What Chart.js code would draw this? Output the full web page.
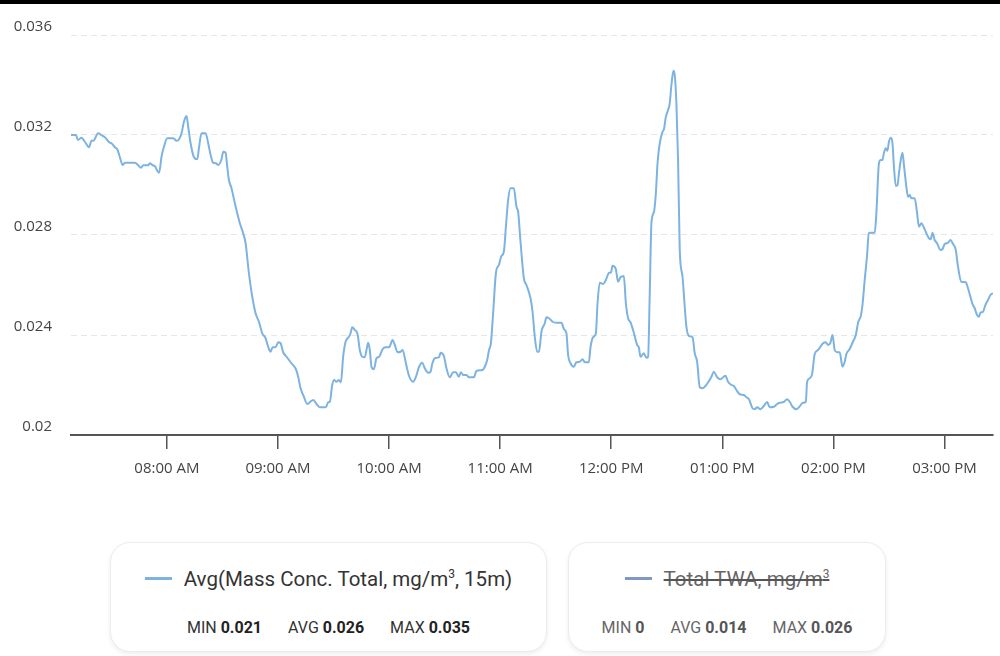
<!DOCTYPE html>
<html>
<head>
<meta charset="utf-8">
<script src="https://cdn.jsdelivr.net/npm/chart.js@4.4.0/dist/chart.umd.min.js"></script>
<style>
html,body{margin:0;padding:0;background:#fff;width:1000px;height:656px;overflow:hidden;font-family:Roboto,"Noto Sans",sans-serif}
#topbar{position:absolute;left:0;top:0;width:1000px;height:4px;background:#000;z-index:2}
#wrap{position:absolute;left:0;top:0;width:1000px;height:500px}
.box{position:absolute;top:542px;height:110px;box-sizing:border-box;border:1px solid #ececec;border-radius:20px;box-shadow:0 2px 5px rgba(0,0,0,0.07);background:#fff}
.title{position:absolute;left:0;right:0;top:24px;line-height:24px;text-align:center;font-size:20.5px;color:#333;white-space:nowrap}
.sw{display:inline-block;width:27px;height:3px;vertical-align:middle;margin-right:12px;position:relative;top:-2px}
.sup{font-size:12px;position:relative;top:-8px}
.stats{position:absolute;left:0;right:0;top:76px;line-height:18px;text-align:center;font-size:16px;color:#333;white-space:nowrap}
.stats b{color:#222}
.stats span{margin:0 13px}
#box2 .title .txt{color:#666;text-decoration:line-through;text-decoration-color:#555}
#box2 .stats{color:#666}
#box2 .stats b{color:#555}
</style>
</head>
<body>
<div id="topbar"></div>
<div id="wrap"><canvas id="c" width="1000" height="500"></canvas></div>

<div class="box" id="box1" style="left:110px;width:437px">
  <div class="title"><span class="sw" style="background:#7db3e0"></span><span class="txt">Avg(Mass Conc. Total, mg/m<span class="sup">3</span>, 15m)</span></div>
  <div class="stats"><span>MIN <b>0.021</b></span><span>AVG <b>0.026</b></span><span>MAX <b>0.035</b></span></div>
</div>
<div class="box" id="box2" style="left:568px;width:318px">
  <div class="title"><span class="sw" style="background:#8099c4"></span><span class="txt">Total TWA, mg/m<span class="sup">3</span></span></div>
  <div class="stats"><span>MIN <b>0</b></span><span>AVG <b>0.014</b></span><span>MAX <b>0.026</b></span></div>
</div>

<script>
// minutes after 07:00
const times = [
  8.2, 10.9, 11.9, 13.9, 15.7, 17.9, 19.3, 20.2, 22.9, 24.7,
  26.5, 28.8, 30.1, 31.9, 33.2, 34.6, 36.1, 37.3, 42.7, 44.5,
  46.0, 47.2, 49.9, 50.8, 52.3, 53.5, 54.8, 55.8, 57.1, 58.4,
  60.2, 63.4, 65.2, 66.6, 67.9, 69.2, 70.6, 71.5, 72.8, 74.6,
  76.4, 77.4, 78.7, 80.9, 82.3, 83.6, 85.0, 86.5, 87.7, 89.5,
  90.4, 91.7, 92.6, 93.5, 94.9, 96.7, 99.4, 101.2, 102.5, 104.3,
  106.1, 107.9, 109.7, 111.5, 113.3, 114.7, 116.0, 117.1, 118.7, 120.1,
  121.4, 122.8, 124.6, 127.3, 129.7, 130.9, 132.2, 134.0, 135.8, 137.2,
  139.0, 141.2, 142.6, 145.9, 147.1, 148.0, 149.3, 150.3, 151.6, 152.9,
  154.0, 155.2, 156.5, 158.3, 159.2, 160.1, 161.5, 163.0, 164.2, 165.5,
  166.9, 167.8, 168.7, 169.6, 170.5, 171.8, 173.2, 174.6, 176.5, 178.1,
  180.0, 181.9, 183.1, 184.6, 186.2, 187.3, 189.1, 190.8, 193.0, 194.5,
  196.1, 197.9, 199.3, 201.1, 202.4, 203.3, 204.7, 207.0, 207.8, 209.6,
  211.0, 212.8, 214.6, 216.1, 217.7, 218.8, 220.0, 221.8, 223.1, 225.8,
  227.2, 230.5, 231.7, 233.0, 234.0, 235.0, 236.2, 237.7, 239.3, 240.7,
  242.0, 243.1, 244.3, 245.6, 247.4, 248.8, 249.7, 251.0, 252.8, 254.2,
  256.4, 257.5, 258.7, 260.0, 261.0, 262.3, 264.1, 265.0, 266.4, 268.3,
  270.4, 273.1, 274.5, 275.8, 276.7, 278.0, 279.8, 281.2, 283.0, 284.5,
  285.7, 287.9, 288.8, 290.2, 291.7, 292.6, 293.8, 295.6, 297.1, 298.8,
  299.8, 300.7, 302.5, 303.7, 305.0, 306.8, 307.9, 309.1, 310.4, 312.2,
  314.0, 314.9, 315.8, 317.6, 319.0, 319.9, 320.8, 321.7, 323.1, 324.1,
  325.0, 326.2, 327.7, 328.5, 329.5, 330.7, 331.6, 332.5, 333.6, 334.3,
  335.2, 336.1, 337.0, 338.5, 339.7, 340.6, 342.0, 343.9, 345.1, 346.4,
  347.8, 349.3, 350.5, 352.8, 354.1, 355.4, 357.2, 359.0, 360.4, 361.7,
  363.1, 364.9, 366.2, 367.6, 369.4, 371.6, 373.0, 374.4, 376.3, 377.5,
  378.8, 380.6, 382.4, 384.2, 385.6, 387.8, 389.6, 391.0, 393.2, 395.0,
  396.4, 397.9, 400.0, 401.4, 403.6, 405.1, 405.8, 407.2, 408.5, 409.9,
  411.7, 414.4, 415.9, 417.1, 418.4, 419.5, 420.7, 422.0, 423.4, 424.9,
  426.1, 427.0, 428.8, 430.6, 432.1, 433.4, 434.8, 435.7, 436.9, 438.2,
  439.1, 440.0, 442.3, 443.2, 444.6, 445.6, 446.5, 447.3, 448.3, 449.2,
  450.0, 451.0, 451.9, 452.7, 453.7, 454.6, 455.4, 456.4, 457.3, 458.1,
  459.4, 460.3, 461.2, 462.1, 463.9, 465.2, 466.2, 467.5, 468.8, 470.2,
  471.6, 472.6, 473.5, 474.7, 476.0, 477.8, 478.9, 480.1, 481.9, 483.2,
  484.6, 486.1, 487.3, 489.1, 491.5, 492.7, 494.0, 495.1, 496.3, 497.6,
  498.6, 499.4, 500.8, 502.1, 503.5, 504.8, 506.2
];
const massConc = [
  0.0320, 0.0320, 0.0318, 0.03189, 0.03173, 0.03151, 0.03177, 0.03177, 0.03207, 0.03199,
  0.03191, 0.03171, 0.03167, 0.03151, 0.03143, 0.03111, 0.0308, 0.03089, 0.03089, 0.03079,
  0.03069, 0.03079, 0.03079, 0.03087, 0.03079, 0.03076, 0.03057, 0.03049, 0.03113, 0.03153,
  0.03187, 0.03187, 0.03177, 0.03183, 0.03207, 0.03253, 0.03276, 0.03233, 0.03167, 0.03111,
  0.03103, 0.03153, 0.03207, 0.03207, 0.03167, 0.0312, 0.03089, 0.03087, 0.0308, 0.03103,
  0.03133, 0.03129, 0.03073, 0.0302, 0.02987, 0.02927, 0.02847, 0.02807, 0.02767, 0.02647,
  0.02553, 0.02487, 0.02453, 0.02407, 0.02387, 0.02353, 0.02333, 0.02351, 0.02351, 0.02371,
  0.02367, 0.02331, 0.02313, 0.02287, 0.02263, 0.02233, 0.02187, 0.02153, 0.02124, 0.02131,
  0.0214, 0.0212, 0.02111, 0.02111, 0.02131, 0.02133, 0.022, 0.0222, 0.02213, 0.0222,
  0.02211, 0.02313, 0.02373, 0.02393, 0.02407, 0.02431, 0.0242, 0.02403, 0.0234, 0.02313,
  0.02311, 0.0234, 0.02369, 0.0234, 0.02273, 0.02263, 0.02307, 0.02313, 0.02343, 0.02351,
  0.02351, 0.0238, 0.0236, 0.02331, 0.02333, 0.0234, 0.02287, 0.02236, 0.02213, 0.02233,
  0.02271, 0.02289, 0.02267, 0.02249, 0.02253, 0.02284, 0.02307, 0.02311, 0.02329, 0.02316,
  0.02267, 0.02231, 0.02251, 0.02251, 0.02233, 0.02251, 0.0224, 0.0224, 0.02231, 0.02231,
  0.02256, 0.0226, 0.02273, 0.023, 0.0234, 0.02367, 0.02487, 0.02647, 0.0268, 0.02716,
  0.02733, 0.02833, 0.0294, 0.02987, 0.02987, 0.02913, 0.02893, 0.02773, 0.02627, 0.026,
  0.02547, 0.02493, 0.02393, 0.02333, 0.02333, 0.02413, 0.02447, 0.02471, 0.02467, 0.02453,
  0.02449, 0.02449, 0.02423, 0.02407, 0.0232, 0.02287, 0.02273, 0.02291, 0.02293, 0.02303,
  0.02291, 0.02291, 0.02351, 0.02391, 0.02407, 0.02527, 0.02609, 0.02604, 0.0262, 0.02649,
  0.02649, 0.02677, 0.02663, 0.02613, 0.02631, 0.02636, 0.02527, 0.02467, 0.02451, 0.02409,
  0.0236, 0.02351, 0.02313, 0.02327, 0.02309, 0.02313, 0.02567, 0.02847, 0.02893, 0.02967,
  0.03087, 0.03167, 0.03213, 0.03224, 0.03273, 0.033, 0.03327, 0.034, 0.03457, 0.0344,
  0.03327, 0.031, 0.0274, 0.02633, 0.02513, 0.02433, 0.02396, 0.02391, 0.02327, 0.02293,
  0.02191, 0.02187, 0.02193, 0.02216, 0.02233, 0.02253, 0.02231, 0.02223, 0.02231, 0.02237,
  0.02213, 0.022, 0.02196, 0.0218, 0.02163, 0.0216, 0.02151, 0.02143, 0.02107, 0.02103,
  0.02111, 0.02103, 0.02116, 0.02132, 0.02111, 0.02113, 0.02124, 0.02129, 0.02132, 0.02143,
  0.02133, 0.02113, 0.02103, 0.02111, 0.02129, 0.02133, 0.02213, 0.02227, 0.02244, 0.02324,
  0.0234, 0.02367, 0.02371, 0.0236, 0.02369, 0.024, 0.0234, 0.02331, 0.02331, 0.02273,
  0.02293, 0.02324, 0.02344, 0.02374, 0.024, 0.02452, 0.02476, 0.0252, 0.0262, 0.0272,
  0.02807, 0.02809, 0.02809, 0.02887, 0.03087, 0.031, 0.031, 0.03129, 0.03147, 0.03137,
  0.03173, 0.03189, 0.03167, 0.03073, 0.02996, 0.02999, 0.03047, 0.031, 0.03129, 0.0308,
  0.02993, 0.02953, 0.0296, 0.02947, 0.02947, 0.02887, 0.02833, 0.02847, 0.02831, 0.02807,
  0.02787, 0.02783, 0.02809, 0.0278, 0.02767, 0.0274, 0.02743, 0.02764, 0.02769, 0.0278,
  0.02764, 0.0274, 0.02673, 0.02613, 0.02611, 0.02587, 0.02553, 0.02524, 0.02507, 0.0248,
  0.02473, 0.02489, 0.02493, 0.0252, 0.0254, 0.0256, 0.02567
];
const xTickMinutes = [60, 120, 180, 240, 300, 360, 420, 480];
const xTickLabels = ['08:00 AM', '09:00 AM', '10:00 AM', '11:00 AM', '12:00 PM', '01:00 PM', '02:00 PM', '03:00 PM'];
const yTicks = [0.02, 0.024, 0.028, 0.032, 0.036];
const yTickLabels = ['0.02', '0.024', '0.028', '0.032', '0.036'];

const points = times.map((t, i) => ({ x: t, y: massConc[i] }));

new Chart(document.getElementById('c').getContext('2d'), {
  type: 'line',
  data: {
    datasets: [{
      data: points,
      borderColor: '#7db3e0',
      borderWidth: 2,
      pointRadius: 0,
      cubicInterpolationMode: 'monotone',
      fill: false
    }]
  },
  options: {
    responsive: false,
    animation: false,
    devicePixelRatio: 1,
    layout: { padding: { top: 35, right: 7, left: 0, bottom: 0 } },
    plugins: { legend: { display: false }, tooltip: { enabled: false } },
    scales: {
      x: {
        type: 'linear',
        min: times[0],
        max: times[times.length - 1],
        afterFit(s) { s.height = 65; },
        afterBuildTicks(s) { s.ticks = xTickMinutes.map(v => ({ value: v })); },
        grid: { display: true, drawOnChartArea: false, drawTicks: true, tickLength: 14, color: '#555', lineWidth: 1.5 },
        border: { display: true, color: '#555', width: 2 },
        ticks: {
          autoSkip: false, maxRotation: 0, padding: 11, color: '#444',
          font: { family: 'Open Sans', size: 15 },
          callback: (v) => { const i = xTickMinutes.indexOf(v); return i >= 0 ? xTickLabels[i] : ''; }
        }
      },
      y: {
        type: 'linear',
        min: 0.02,
        max: 0.036,
        afterFit(s) { s.width = 71; },
        afterBuildTicks(s) { s.ticks = yTicks.map(v => ({ value: v })); },
        grid: { color: '#e6e6e6', lineWidth: 1, drawTicks: false },
        border: { display: false, dash: [6, 4] },
        ticks: {
          padding: 19, labelOffset: -8, color: '#444',
          font: { family: 'Open Sans', size: 15 },
          callback: (v) => { const i = yTicks.indexOf(v); return i >= 0 ? yTickLabels[i] : ''; }
        }
      }
    }
  }
});
</script>
</body>
</html>
